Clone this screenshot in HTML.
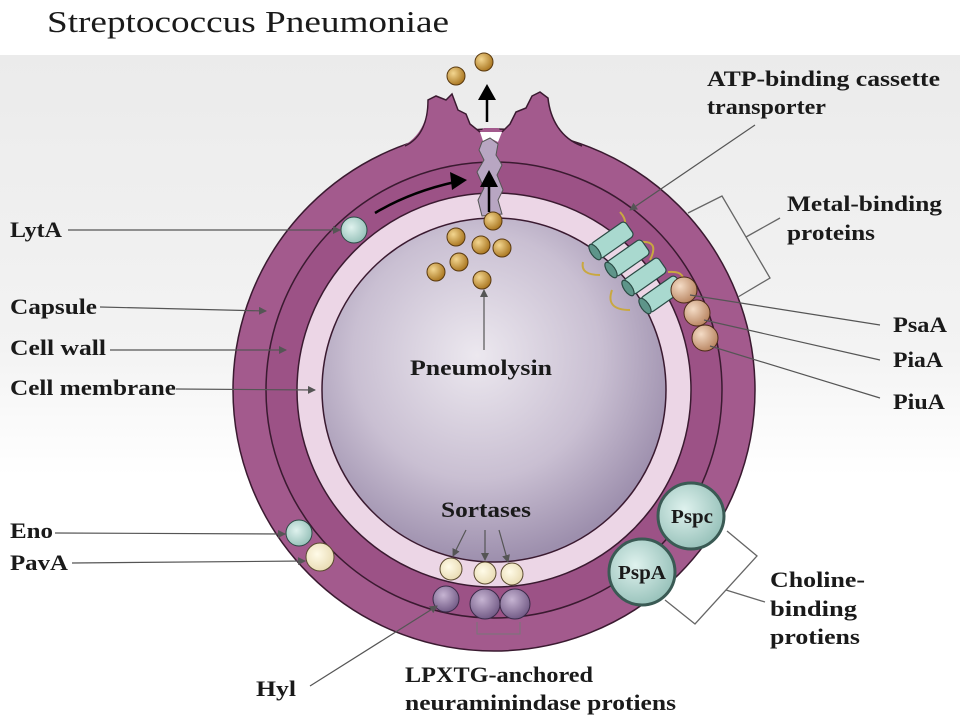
<!DOCTYPE html>
<html><head><style>
body{margin:0;width:960px;height:720px;overflow:hidden;background:#fff}
svg{display:block}
text{font-family:"Liberation Serif",serif;font-weight:bold;font-size:22px;fill:#1a1a1a}
</style></head><body>
<svg width="960" height="720" viewBox="0 0 960 720">
<defs>
<linearGradient id="bg" x1="0" y1="0" x2="0" y2="1">
<stop offset="0" stop-color="#ebebeb"/><stop offset="0.7" stop-color="#f3f3f3"/><stop offset="1" stop-color="#fff"/>
</linearGradient>
<radialGradient id="cyt" cx="0.45" cy="0.4" r="0.6">
<stop offset="0" stop-color="#ece8ef"/><stop offset="0.6" stop-color="#c9bfd2"/><stop offset="1" stop-color="#9d8fad"/>
</radialGradient>
<radialGradient id="gold" cx="0.35" cy="0.35" r="0.7">
<stop offset="0" stop-color="#f3d690"/><stop offset="1" stop-color="#a8741e"/>
</radialGradient>
<radialGradient id="tan" cx="0.35" cy="0.35" r="0.7">
<stop offset="0" stop-color="#f4dcc6"/><stop offset="1" stop-color="#b88460"/>
</radialGradient>
<radialGradient id="cream" cx="0.4" cy="0.4" r="0.7">
<stop offset="0" stop-color="#fffbe8"/><stop offset="1" stop-color="#e6d8ae"/>
</radialGradient>
<radialGradient id="teal" cx="0.4" cy="0.4" r="0.7">
<stop offset="0" stop-color="#dff2ee"/><stop offset="1" stop-color="#8fbcb4"/>
</radialGradient>
<radialGradient id="purp" cx="0.4" cy="0.35" r="0.7">
<stop offset="0" stop-color="#c6b4d2"/><stop offset="1" stop-color="#6e5682"/>
</radialGradient>
<marker id="ah" markerWidth="8" markerHeight="8" refX="7" refY="4" orient="auto" markerUnits="userSpaceOnUse">
<path d="M0,0 L8,4 L0,8 z" fill="#555"/></marker>
</defs>
<rect x="0" y="55" width="960" height="420" fill="url(#bg)"/>
<text x="47" y="32" textLength="402" lengthAdjust="spacingAndGlyphs" style="font-weight:normal;font-size:31px">Streptococcus Pneumoniae</text>

<circle cx="494" cy="390" r="261" fill="#a35a8d" stroke="#3a1a30" stroke-width="1.5"/>
<!-- bump -->
<path d="M395,150 C420,140 428,120 428,100 L436,96 L446,100 L452,94 L458,110 L466,114 L470,124 L480,132 L484,128 L498,128 L502,132 L510,124 L516,112 L526,108 L532,96 L540,92 L548,98 C550,118 560,140 592,150 Z" fill="#a35a8d"/>
<path d="M405,146 C422,138 428,120 428,100 L436,96 L446,100 L452,94 L458,110 L466,114 L470,124 L480,132 M502,132 L510,124 L516,112 L526,108 L532,96 L540,92 L548,98 C550,118 560,138 582,146" fill="none" stroke="#3a1a30" stroke-width="1.5"/>
<circle cx="494" cy="390" r="228" fill="#9c5286" stroke="#3a1a30" stroke-width="1.5"/>
<circle cx="494" cy="390" r="197" fill="#ecd6e6" stroke="#3a1a30" stroke-width="1.5"/>
<circle cx="494" cy="390" r="172" fill="url(#cyt)" stroke="#3a1a30" stroke-width="1.5"/>
<!-- pore -->
<path d="M480,132 L502,132 L498,142 L490,138 L484,144 Z" fill="#fff"/>
<path d="M482,142 L490,138 L498,144 L496,155 L502,165 L497,175 L503,190 L498,200 L502,214 L482,216 L478,200 L484,188 L477,172 L484,160 L479,150 Z" fill="#b8a6c2" stroke="#555" stroke-width="1"/>
<line x1="487" y1="122" x2="487" y2="98" stroke="#000" stroke-width="2.5"/>
<path d="M478,100 L487,84 L496,100 Z" fill="#000"/>
<line x1="489" y1="212" x2="489" y2="185" stroke="#000" stroke-width="2.5"/>
<path d="M480,187 L489,170 L498,187 Z" fill="#000"/>
<path d="M375,213 Q410,192 455,182" fill="none" stroke="#000" stroke-width="2.5"/>
<path d="M450,172 L467,180 L452,190 Z" fill="#000"/>
<!-- pneumolysin -->
<g fill="url(#gold)" stroke="#5a3a10" stroke-width="1">
<circle cx="456" cy="76" r="9"/><circle cx="484" cy="62" r="9"/>
<circle cx="493" cy="221" r="9"/><circle cx="456" cy="237" r="9"/><circle cx="481" cy="245" r="9"/>
<circle cx="502" cy="248" r="9"/><circle cx="459" cy="262" r="9"/><circle cx="436" cy="272" r="9"/><circle cx="482" cy="280" r="9"/>
</g>
<!-- ABC transporter loops -->
<g fill="none" stroke="#c9a840" stroke-width="2">
<path d="M620,212 Q632,225 616,235"/><path d="M583,262 Q580,275 600,275"/><path d="M640,242 Q660,240 650,260"/><path d="M612,290 Q605,310 630,310"/><path d="M668,272 Q690,270 680,290"/>
</g>
<g stroke="#2a4a44" stroke-width="1.2" fill="#a9d9cf">
<g transform="translate(595,252) rotate(-35)"><rect x="0" y="-9" width="42" height="18" rx="4"/><ellipse cx="0" cy="0" rx="4" ry="9" fill="#5e958a"/></g>
<g transform="translate(611,270) rotate(-35)"><rect x="0" y="-9" width="42" height="18" rx="4"/><ellipse cx="0" cy="0" rx="4" ry="9" fill="#5e958a"/></g>
<g transform="translate(628,288) rotate(-35)"><rect x="0" y="-9" width="42" height="18" rx="4"/><ellipse cx="0" cy="0" rx="4" ry="9" fill="#5e958a"/></g>
<g transform="translate(645,306) rotate(-35)"><rect x="0" y="-9" width="42" height="18" rx="4"/><ellipse cx="0" cy="0" rx="4" ry="9" fill="#5e958a"/></g>
</g>
<g fill="url(#tan)" stroke="#4a2a18" stroke-width="1">
<circle cx="684" cy="290" r="13"/><circle cx="697" cy="313" r="13"/><circle cx="705" cy="338" r="13"/>
</g>
<circle cx="354" cy="230" r="13" fill="url(#teal)" stroke="#2a4a44"/>
<circle cx="299" cy="533" r="13" fill="url(#teal)" stroke="#2a4a44"/>
<circle cx="320" cy="557" r="14" fill="url(#cream)" stroke="#5a4a30"/>
<g fill="url(#cream)" stroke="#5a4a30">
<circle cx="451" cy="569" r="11"/><circle cx="485" cy="573" r="11"/><circle cx="512" cy="574" r="11"/>
</g>
<g fill="url(#purp)" stroke="#3a2a48">
<circle cx="446" cy="599" r="13"/><circle cx="485" cy="604" r="15"/><circle cx="515" cy="604" r="15"/>
</g>
<path d="M477,622 L477,634 L520,634 L520,622" fill="none" stroke="#777"/>
<circle cx="691" cy="516" r="33" fill="url(#teal)" stroke="#3a5a54" stroke-width="3"/>
<circle cx="642" cy="572" r="33" fill="url(#teal)" stroke="#3a5a54" stroke-width="3"/>
<text x="671" y="523" textLength="42" lengthAdjust="spacingAndGlyphs" style="font-size:20px">Pspc</text>
<text x="618" y="579" textLength="48" lengthAdjust="spacingAndGlyphs" style="font-size:20px">PspA</text>
<g fill="none" stroke="#666" stroke-width="1.3">
<path d="M688,213 L722,196 L770,278 L738,297"/><line x1="746" y1="237" x2="780" y2="218"/>
<path d="M727,531 L757,556 L695,624 L665,600"/><line x1="726" y1="590" x2="765" y2="602"/>
</g>
<g stroke="#555" stroke-width="1.2" fill="none" marker-end="url(#ah)">
<line x1="68" y1="230" x2="340" y2="230"/>
<line x1="100" y1="307" x2="266" y2="311"/>
<line x1="110" y1="350" x2="286" y2="350"/>
<line x1="176" y1="389" x2="315" y2="390"/>
<line x1="55" y1="533" x2="285" y2="534"/>
<line x1="72" y1="563" x2="305" y2="561"/>
<line x1="310" y1="686" x2="437" y2="606"/>
<line x1="484" y1="350" x2="484" y2="290"/>
<line x1="755" y1="125" x2="630" y2="210"/>
<line x1="466" y1="530" x2="453" y2="556"/>
<line x1="485" y1="530" x2="485" y2="560"/>
<line x1="499" y1="530" x2="508" y2="562"/>
</g>
<g stroke="#555" stroke-width="1.2">
<line x1="690" y1="295" x2="880" y2="325"/>
<line x1="704" y1="320" x2="880" y2="360"/>
<line x1="710" y1="346" x2="880" y2="398"/>
</g>
<g style="" >
<text x="10" y="237" textLength="52" lengthAdjust="spacingAndGlyphs">LytA</text>
<text x="10" y="314" textLength="87" lengthAdjust="spacingAndGlyphs">Capsule</text>
<text x="10" y="355" textLength="96" lengthAdjust="spacingAndGlyphs">Cell wall</text>
<text x="10" y="395" textLength="166" lengthAdjust="spacingAndGlyphs">Cell membrane</text>
<text x="10" y="538" textLength="43" lengthAdjust="spacingAndGlyphs">Eno</text>
<text x="10" y="570" textLength="58" lengthAdjust="spacingAndGlyphs">PavA</text>
<text x="256" y="696" textLength="40" lengthAdjust="spacingAndGlyphs">Hyl</text>
<text x="410" y="375" textLength="142" lengthAdjust="spacingAndGlyphs">Pneumolysin</text>
<text x="441" y="517" textLength="90" lengthAdjust="spacingAndGlyphs">Sortases</text>
<text x="405" y="682" textLength="188" lengthAdjust="spacingAndGlyphs">LPXTG-anchored</text>
<text x="405" y="710" textLength="271" lengthAdjust="spacingAndGlyphs">neuraminindase protiens</text>
<text x="707" y="86" textLength="233" lengthAdjust="spacingAndGlyphs">ATP-binding cassette</text>
<text x="707" y="114" textLength="119" lengthAdjust="spacingAndGlyphs">transporter</text>
<text x="787" y="211" textLength="155" lengthAdjust="spacingAndGlyphs">Metal-binding</text>
<text x="787" y="240" textLength="88" lengthAdjust="spacingAndGlyphs">proteins</text>
<text x="893" y="332" textLength="54" lengthAdjust="spacingAndGlyphs">PsaA</text>
<text x="893" y="367" textLength="50" lengthAdjust="spacingAndGlyphs">PiaA</text>
<text x="893" y="409" textLength="52" lengthAdjust="spacingAndGlyphs">PiuA</text>
<text x="770" y="587" textLength="95" lengthAdjust="spacingAndGlyphs">Choline-</text>
<text x="770" y="616" textLength="87" lengthAdjust="spacingAndGlyphs">binding</text>
<text x="770" y="644" textLength="90" lengthAdjust="spacingAndGlyphs">protiens</text>
</g>
</svg>
</body></html>
